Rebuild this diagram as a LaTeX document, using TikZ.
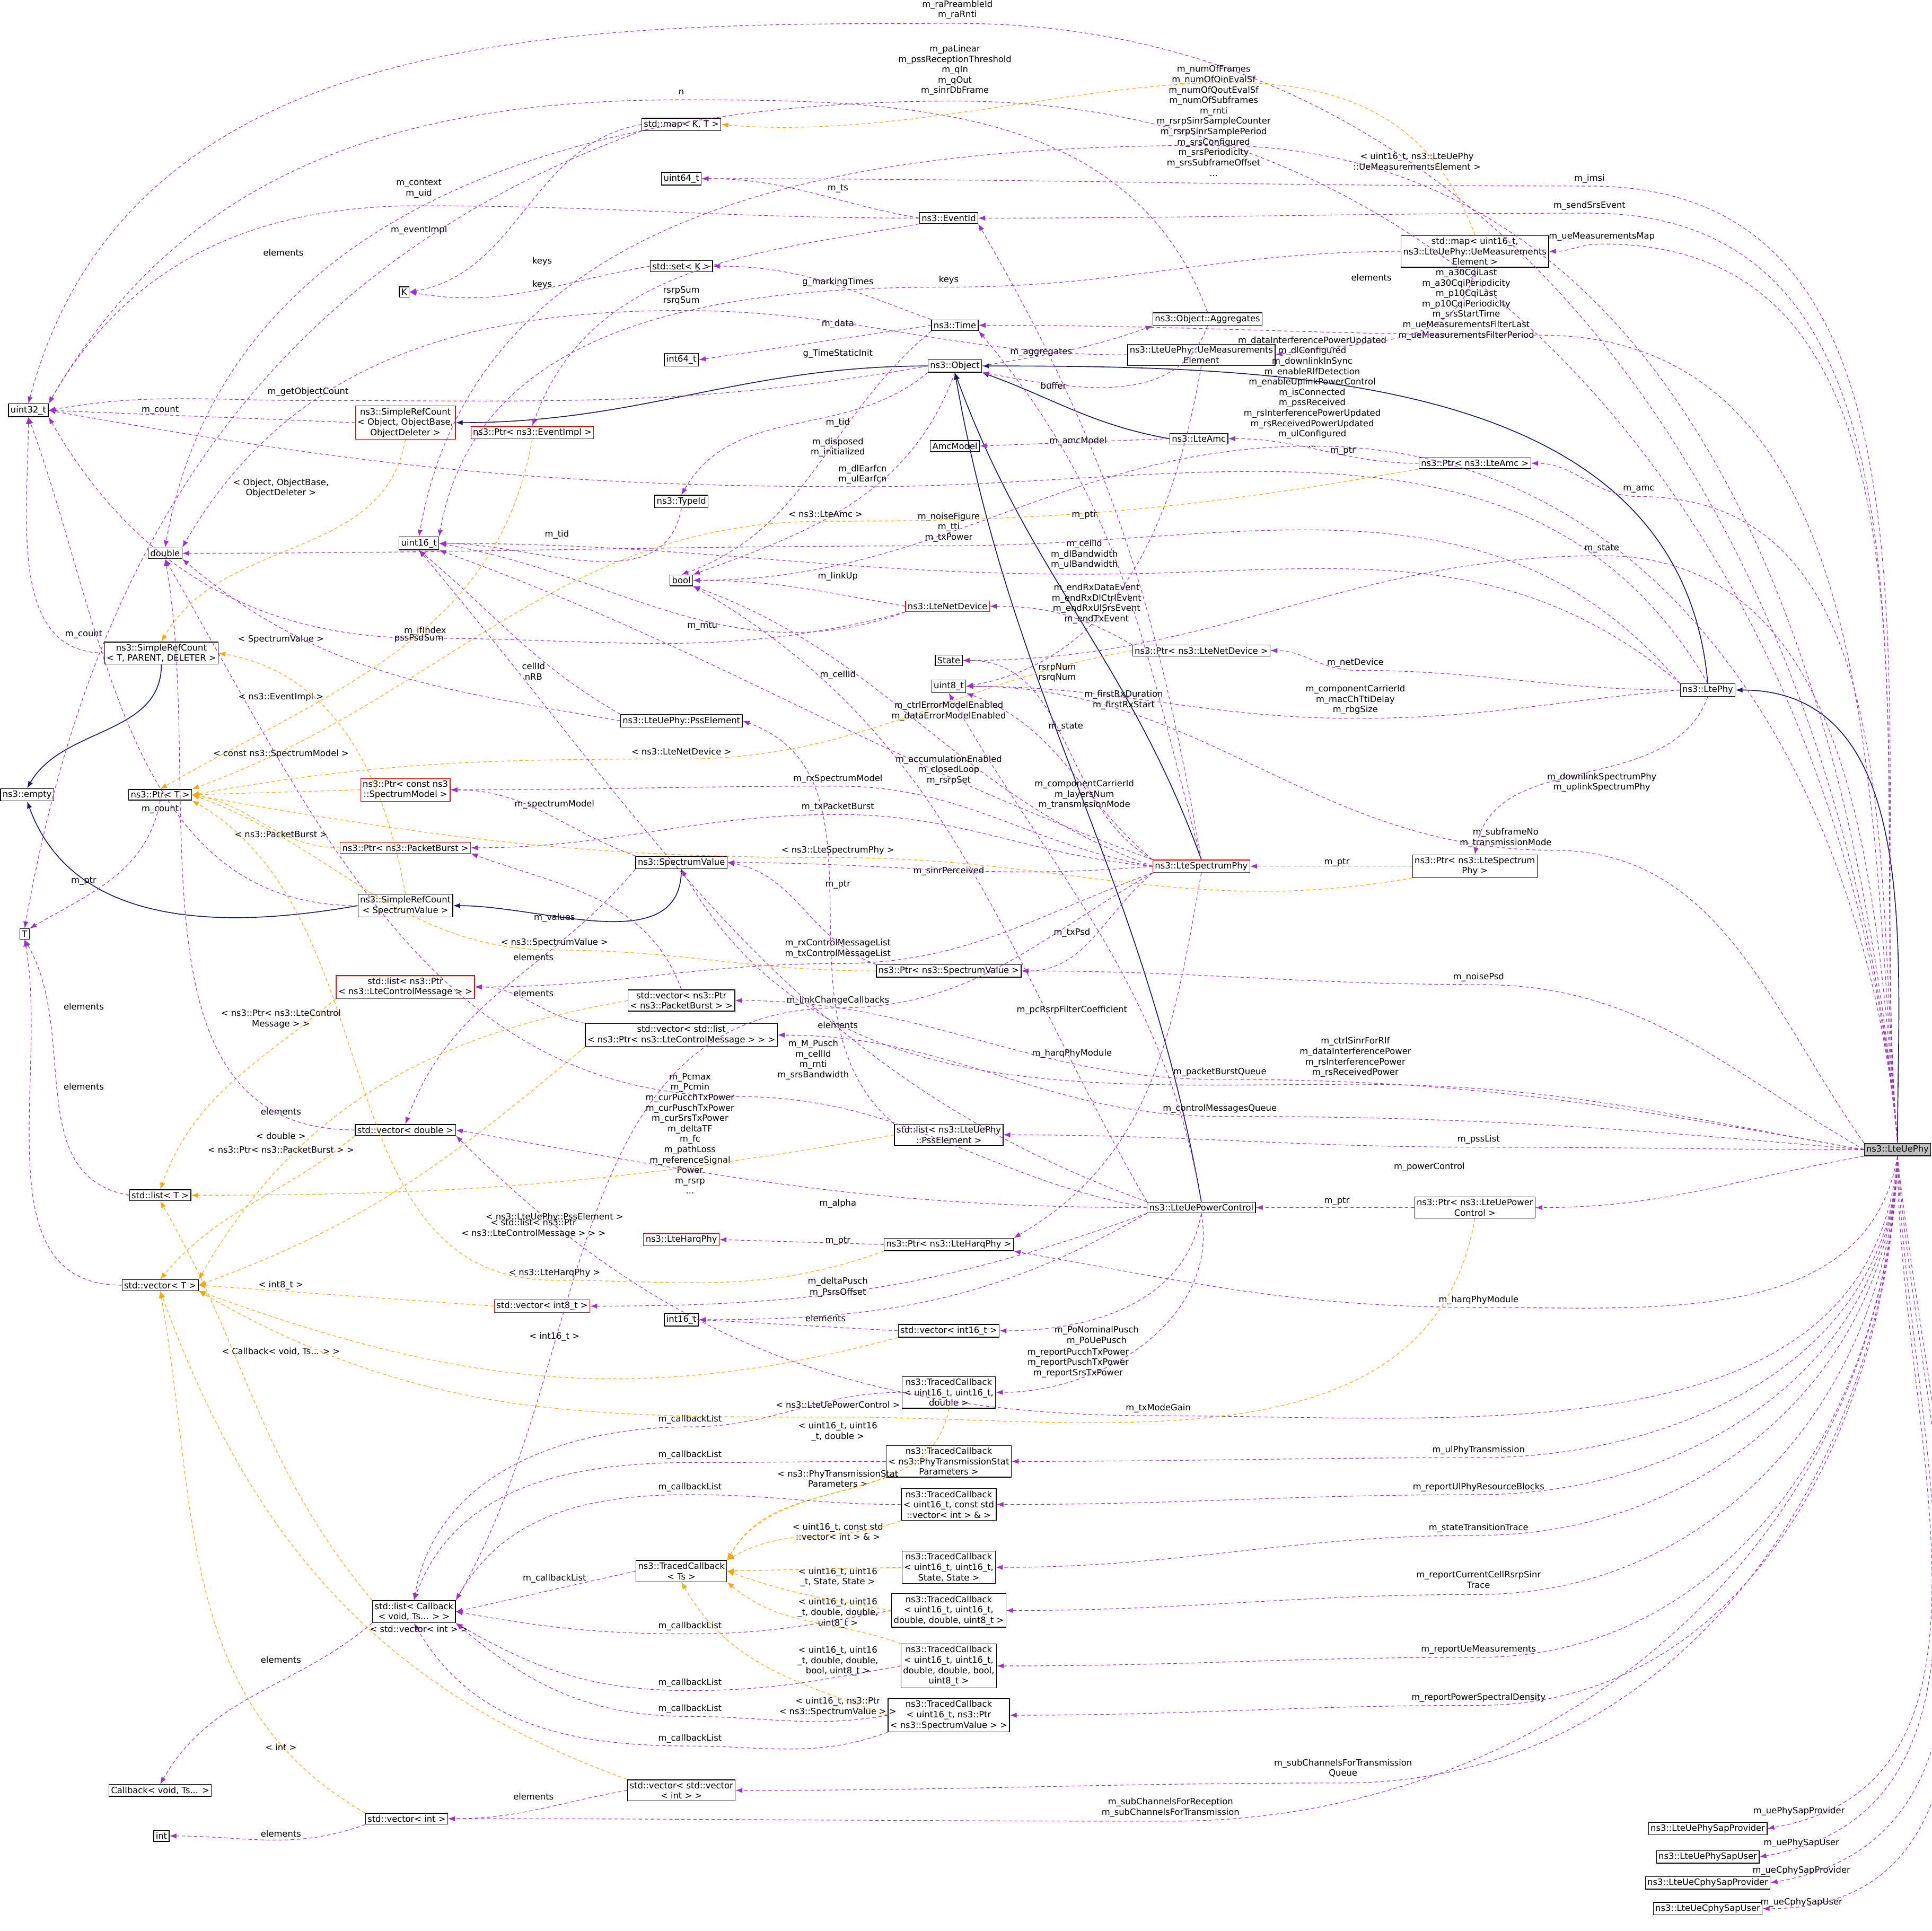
\documentclass[tikz,border=0pt]{standalone}
\usepackage{fontspec}
\setmainfont{DejaVu Sans}
\usetikzlibrary{arrows.meta}
\definecolor{pur}{HTML}{9A32CD}
\definecolor{ora}{HTML}{FFA500}
\definecolor{nav}{HTML}{191970}
\newcommand\fs{\fontsize{5}{6}\selectfont}
\tikzset{
box/.style={draw=black, fill=white, inner sep=1.2pt, align=center, font=\fs, line width=0.4pt},
rbox/.style={box, draw=red},
gbox/.style={box, fill=black!25},
lbl/.style={align=center, font=\fs, inner sep=0pt},
pe/.style={draw=pur, dash pattern=on 2pt off 1.5pt, -{Latex[length=4pt,width=3pt]}, line width=0.35pt},
oe/.style={draw=ora, dash pattern=on 2pt off 1.5pt, -{Latex[length=4pt,width=3pt]}, line width=0.35pt},
ie/.style={draw=nav, -{Latex[length=4pt,width=3pt]}, line width=0.5pt},
}
\begin{document}
\begin{tikzpicture}[x=0.025cm,y=-0.025cm]
\useasboundingbox (0,0) rectangle (1568,1567);
% nodes
\node[box] (u32) at (23,333) {uint32\_t};
\node[box] (dbl) at (134,449) {double};
\node[box] (empty) at (22,645) {ns3::empty};
\node[box] (T) at (20,758) {T};
\node[box] (ptrT) at (130,645) {ns3::Ptr< T >};
\node[box] (srcT) at (131,530) {ns3::SimpleRefCount\\< T, PARENT, DELETER >};
\node[box] (listT) at (130,970) {std::list< T >};
\node[box] (vecT) at (130,1043) {std::vector< T >};
\node[box] (listCb) at (336,1308) {std::list< Callback\\< void, Ts... > >};
\node[box] (cb) at (130,1453) {Callback< void, Ts... >};
\node[box] (int) at (131,1490) {int};
\node[box] (vint) at (330,1476) {std::vector< int >};
\node[box] (vvint) at (553,1453) {std::vector< std::vector\\< int > >};
\node[box] (K) at (328,237) {K};
\node[box] (i64) at (553,292) {int64\_t};
\node[box] (u64) at (553,145) {uint64\_t};
\node[box] (mapKT) at (553,101) {std::map< K, T >};
\node[box] (setK) at (553,216) {std::set< K >};
\node[rbox] (srcO) at (329,343) {ns3::SimpleRefCount\\< Object, ObjectBase,\\ ObjectDeleter >};
\node[rbox] (pEvI) at (432,351) {ns3::Ptr< ns3::EventImpl >};
\node[box] (u16) at (340,441) {uint16\_t};
\node[box] (bool) at (553,471) {bool};
\node[box] (tid) at (553,407) {ns3::TypeId};
\node[box] (state) at (770,536) {State};
\node[box] (u8) at (770,557) {uint8\_t};
\node[box] (evid) at (770,177) {ns3::EventId};
\node[box] (time) at (775,264) {ns3::Time};
\node[box] (obj) at (775,297) {ns3::Object};
\node[box] (amcm) at (775,362) {AmcModel};
\node[box] (aggr) at (980,259) {ns3::Object::Aggregates};
\node[box] (uemE) at (975,288) {ns3::LteUePhy::UeMeasurements\\Element};
\node[box] (mapU) at (1197,204) {std::map< uint16\_t,\\ ns3::LteUePhy::UeMeasurements\\Element >};
\node[box] (amc) at (973,356) {ns3::LteAmc};
\node[box] (pAmc) at (1197,376) {ns3::Ptr< ns3::LteAmc >};
\node[rbox] (netd) at (769,492) {ns3::LteNetDevice};
\node[box] (pNetd) at (975,528) {ns3::Ptr< ns3::LteNetDevice >};
\node[box] (phy) at (1386,560) {ns3::LtePhy};
\node[rbox] (pSM) at (329,641) {ns3::Ptr< const ns3\\::SpectrumModel >};
\node[rbox] (pPB) at (329,688) {ns3::Ptr< ns3::PacketBurst >};
\node[box] (pss) at (553,585) {ns3::LteUePhy::PssElement};
\node[box] (sv) at (553,700) {ns3::SpectrumValue};
\node[box] (srcSV) at (329,735) {ns3::SimpleRefCount\\< SpectrumValue >};
\node[rbox] (lCM) at (329,801) {std::list< ns3::Ptr\\< ns3::LteControlMessage > >};
\node[box] (vPB) at (553,812) {std::vector< ns3::Ptr\\< ns3::PacketBurst > >};
\node[box] (vlCM) at (553,840) {std::vector< std::list\\< ns3::Ptr< ns3::LteControlMessage > > >};
\node[box] (vdbl) at (329,917) {std::vector< double >};
\node[rbox] (sphy) at (975,703) {ns3::LteSpectrumPhy};
\node[box] (pSphy) at (1197,703) {ns3::Ptr< ns3::LteSpectrum\\Phy >};
\node[box] (pSV) at (770,788) {ns3::Ptr< ns3::SpectrumValue >};
\node[box] (lPss) at (770,921) {std::list< ns3::LteUePhy\\::PssElement >};
\node[box] (pc) at (975,980) {ns3::LteUePowerControl};
\node[box] (pPc) at (1197,980) {ns3::Ptr< ns3::LteUePower\\Control >};
\node[rbox] (harq) at (553,1006) {ns3::LteHarqPhy};
\node[box] (pHarq) at (770,1010) {ns3::Ptr< ns3::LteHarqPhy >};
\node[rbox] (vi8) at (440,1060) {std::vector< int8\_t >};
\node[box] (i16) at (553,1071) {int16\_t};
\node[box] (vi16) at (770,1080) {std::vector< int16\_t >};
\node[box] (tc1) at (770,1130) {ns3::TracedCallback\\< uint16\_t, uint16\_t,\\ double >};
\node[box] (tc2) at (770,1186) {ns3::TracedCallback\\< ns3::PhyTransmissionStat\\Parameters >};
\node[box] (tc3) at (770,1221) {ns3::TracedCallback\\< uint16\_t, const std\\::vector< int > \& >};
\node[box] (tcTs) at (553,1275) {ns3::TracedCallback\\< Ts >};
\node[box] (tc4) at (770,1272) {ns3::TracedCallback\\< uint16\_t, uint16\_t,\\ State, State >};
\node[box] (tc5) at (770,1307) {ns3::TracedCallback\\< uint16\_t, uint16\_t,\\ double, double, uint8\_t >};
\node[box] (tc6) at (770,1352) {ns3::TracedCallback\\< uint16\_t, uint16\_t,\\ double, double, bool,\\ uint8\_t >};
\node[box] (tc7) at (770,1392) {ns3::TracedCallback\\< uint16\_t, ns3::Ptr\\< ns3::SpectrumValue > >};
\node[gbox] (U) at (1540,933) {ns3::LteUePhy};
\node[box] (sap1) at (1386,1484) {ns3::LteUePhySapProvider};
\node[box] (sap2) at (1386,1507) {ns3::LteUePhySapUser};
\node[box] (sap3) at (1386,1528) {ns3::LteUeCphySapProvider};
\node[box] (sap4) at (1386,1549) {ns3::LteUeCphySapUser};

% inheritance
\draw[ie] (U.north) to[out=90,in=0] (phy.east);
\draw[ie] (phy.north) to[out=95,in=0] (obj.east);
\draw[ie] (pc.north) to[out=100,in=-80] (obj.south);
\draw[ie] (amc.west) to[out=170,in=-20] (obj.south east);
\draw[ie] (sphy.north) to[out=110,in=-70] (obj.south);
\draw[ie] (obj.west) to[out=180,in=0] (srcO.east);
\draw[ie] (srcT.south) to[out=-90,in=60] (empty.north);
\draw[ie] (srcSV.west) to[out=190,in=-70] (empty.south);
\draw[ie] (sv.south) to[out=-90,in=0] (srcSV.east);

% LteUePhy members
\node[lbl] (l1) at (777,8) {m\_raPreambleId\\m\_raRnti};
\draw[pe] (U.north) to[out=95,in=0] (777,19) to[out=180,in=75] (u32.north);
\node[lbl] (l2) at (775,57) {m\_paLinear\\m\_pssReceptionThreshold\\m\_qIn\\m\_qOut\\m\_sinrDbFrame};
\draw[pe] (U.north) to[out=95,in=0] (775,82) to[out=180,in=80] (dbl.north);
\node[lbl] (l3) at (985,98) {m\_numOfFrames\\m\_numOfQinEvalSf\\m\_numOfQoutEvalSf\\m\_numOfSubframes\\m\_rnti\\m\_rsrpSinrSampleCounter\\m\_rsrpSinrSamplePeriod\\m\_srsConfigured\\m\_srsPeriodicity\\m\_srsSubframeOffset\\...};
\draw[pe] (U.north) to[out=95,in=0] (985,118) to[out=180,in=80] (u16.north);
\node[lbl] (l4) at (1290,145) {m\_imsi};
\draw[pe] (U.north) to[out=95,in=0] (1290,151) to[out=180,in=0] (u64.east);
\node[lbl] (l5) at (1290,167) {m\_sendSrsEvent};
\draw[pe] (U.north) to[out=95,in=0] (1290,173) to[out=180,in=0] (evid.east);
\node[lbl] (l6) at (1300,192) {m\_ueMeasurementsMap};
\draw[pe] (U.north) to[out=95,in=0] (1300,198) to[out=180,in=0] (mapU.east);
\node[lbl] (l7) at (1190,247) {m\_a30CqiLast\\m\_a30CqiPeriodicity\\m\_p10CqiLast\\m\_p10CqiPeriodicity\\m\_srsStartTime\\m\_ueMeasurementsFilterLast\\m\_ueMeasurementsFilterPeriod};
\draw[pe] (U.north) to[out=95,in=0] (1250,272) to[out=180,in=0] (time.east);
\node[lbl] (l8) at (1065,318) {m\_dataInterferencePowerUpdated\\m\_dlConfigured\\m\_downlinkInSync\\m\_enableRlfDetection\\m\_enableUplinkPowerControl\\m\_isConnected\\m\_pssReceived\\m\_rsInterferencePowerUpdated\\m\_rsReceivedPowerUpdated\\m\_ulConfigured\\...};
\draw[pe] (U.north) to[out=95,in=0] (1065,362) to[out=180,in=0] (bool.east);
\node[lbl] (l9) at (1330,397) {m\_amc};
\draw[pe] (U.north) to[out=95,in=0] (1330,403) to[out=180,in=0] (pAmc.east);
\node[lbl] (l10) at (1300,445) {m\_state};
\draw[pe] (U.north) to[out=95,in=0] (1300,451) to[out=180,in=0] (state.east);
\node[lbl] (l11) at (1222,680) {m\_subframeNo\\m\_transmissionMode};
\draw[pe] (U.north west) to[out=125,in=0] (1260,690) to[out=180,in=0] (u8.east);
\node[lbl] (l12) at (1200,793) {m\_noisePsd};
\draw[pe] (U.west) to[out=150,in=0] (1200,799) to[out=180,in=0] (pSV.east);
\node[lbl] (l13) at (1100,858) {m\_ctrlSinrForRlf\\m\_dataInterferencePower\\m\_rsInterferencePower\\m\_rsReceivedPower};
\draw[pe] (U.west) to[out=170,in=0] (1100,880) to[out=180,in=-60] (sv.south);
\node[lbl] (l14) at (990,870) {m\_packetBurstQueue};
\draw[pe] (U.west) to[out=170,in=0] (990,876) to[out=180,in=0] (vPB.east);
\node[lbl] (l15) at (990,900) {m\_controlMessagesQueue};
\draw[pe] (U.west) to[out=175,in=0] (990,906) to[out=180,in=0] (vlCM.east);
\node[lbl] (l16) at (1200,925) {m\_pssList};
\draw[pe] (U.west) to[out=180,in=0] (1200,931) to[out=180,in=0] (lPss.east);
\node[lbl] (l17) at (1160,947) {m\_powerControl};
\draw[pe] (U.south west) to[out=190,in=0] (pPc.east);
\node[lbl] (l18) at (1200,1055) {m\_harqPhyModule};
\draw[pe] (U.south) to[out=-100,in=0] (1200,1061) to[out=180,in=-10] (pHarq.south east);
\node[lbl] (l19) at (940,1143) {m\_txModeGain};
\draw[pe] (U.south) to[out=-95,in=0] (940,1149) to[out=180,in=-45] (vdbl.south east);
\node[lbl] (l20) at (1200,1177) {m\_ulPhyTransmission};
\draw[pe] (U.south) to[out=-92,in=0] (1200,1183) to[out=180,in=0] (tc2.east);
\node[lbl] (l21) at (1200,1207) {m\_reportUlPhyResourceBlocks};
\draw[pe] (U.south) to[out=-92,in=0] (1200,1213) to[out=180,in=0] (tc3.east);
\node[lbl] (l22) at (1200,1240) {m\_stateTransitionTrace};
\draw[pe] (U.south) to[out=-92,in=0] (1200,1246) to[out=180,in=0] (tc4.east);
\node[lbl] (l23) at (1200,1282) {m\_reportCurrentCellRsrpSinr\\Trace};
\draw[pe] (U.south) to[out=-92,in=0] (1200,1294) to[out=180,in=0] (tc5.east);
\node[lbl] (l24) at (1200,1339) {m\_reportUeMeasurements};
\draw[pe] (U.south) to[out=-92,in=0] (1200,1345) to[out=180,in=0] (tc6.east);
\node[lbl] (l25) at (1200,1378) {m\_reportPowerSpectralDensity};
\draw[pe] (U.south) to[out=-92,in=0] (1200,1384) to[out=180,in=0] (tc7.east);
\node[lbl] (l26) at (1090,1435) {m\_subChannelsForTransmission\\Queue};
\draw[pe] (U.south) to[out=-92,in=0] (1090,1447) to[out=180,in=0] (vvint.east);
\node[lbl] (l27) at (950,1467) {m\_subChannelsForReception\\m\_subChannelsForTransmission};
\draw[pe] (U.south) to[out=-92,in=0] (950,1478) to[out=180,in=0] (vint.east);
\node[lbl] (l28) at (1460,1470) {m\_uePhySapProvider};
\draw[pe] (U.south) to[out=-90,in=10] (sap1.east);
\node[lbl] (l29) at (1462,1496) {m\_uePhySapUser};
\draw[pe] (U.south) to[out=-88,in=10] (sap2.east);
\node[lbl] (l30) at (1462,1518) {m\_ueCphySapProvider};
\draw[pe] (U.south) to[out=-86,in=10] (sap3.east);
\node[lbl] (l31) at (1462,1544) {m\_ueCphySapUser};
\draw[pe] (U.south) to[out=-84,in=0] (sap4.east);

% LtePhy members
\node[lbl] (p1) at (1100,538) {m\_netDevice};
\draw[pe] (phy.west) to[out=180,in=0] (1100,544) to[out=180,in=0] (pNetd.east);
\node[lbl] (p2) at (1100,568) {m\_componentCarrierId\\m\_macChTtiDelay\\m\_rbgSize};
\draw[pe] (phy.west) to[out=185,in=0] (1100,583) to[out=180,in=0] (u8.east);
\node[lbl] (p3) at (1300,635) {m\_downlinkSpectrumPhy\\m\_uplinkSpectrumPhy};
\draw[pe] (phy.south) to[out=-110,in=80] (pSphy.north);
\node[lbl] (p4) at (880,450) {m\_cellId\\m\_dlBandwidth\\m\_ulBandwidth};
\draw[pe] (phy.north west) to[out=140,in=0] (880,466) to[out=180,in=0] (u16.east);
\node[lbl] (p5) at (770,428) {m\_noiseFigure\\m\_tti\\m\_txPower};
\draw[pe] (phy.north west) to[out=130,in=0] (770,443) to[out=180,in=0] (dbl.east);
\node[lbl] (p6) at (700,385) {m\_dlEarfcn\\m\_ulEarfcn};
\draw[pe] (phy.north) to[out=120,in=0] (700,395) to[out=180,in=-10] (u32.east);

% Object etc
\node[lbl] (o1) at (680,343) {m\_tid};
\draw[pe] (obj.south west) to[out=220,in=60] (tid.north);
\node[lbl] (o2) at (680,363) {m\_disposed\\m\_initialized};
\draw[pe] (obj.south) to[out=-110,in=20] (bool.north east);
\node[lbl] (o3) at (845,286) {m\_aggregates};
\draw[pe] (obj.east) to[out=10,in=200] (aggr.south west);
\node[lbl] (o4) at (855,313) {buffer};
\draw[pe] (aggr.south) to[out=-110,in=-10] (obj.south east);
\node[lbl] (o5) at (250,318) {m\_getObjectCount};
\draw[pe] (obj.west) to[out=190,in=0] (250,325) to[out=180,in=10] (u32.east);
\node[lbl] (o6) at (553,75) {n};
\draw[pe] (aggr.north) to[out=110,in=0] (553,81) to[out=180,in=60] (u32.north east);
\node[lbl] (o7) at (452,434) {m\_tid};
\draw[pe] (tid.south) to[out=-100,in=0] (u16.east);
\node[lbl] (o8) at (680,263) {m\_data};
\draw[pe] (time.west) -- (i64.east);
\node[lbl] (o9) at (680,229) {g\_markingTimes};
\draw[pe] (time.north west) to[out=160,in=0] (setK.east);
\node[lbl] (o10) at (680,287) {g\_TimeStaticInit};
\draw[pe] (time.south west) to[out=220,in=20] (bool.north);
\node[lbl] (o11) at (680,153) {m\_ts};
\draw[pe] (evid.west) to[out=170,in=0] (u64.east);
\node[lbl] (o12) at (340,153) {m\_context\\m\_uid};
\draw[pe] (evid.west) to[out=180,in=0] (340,167) to[out=180,in=60] (u32.north east);
\node[lbl] (o13) at (340,187) {m\_eventImpl};
\draw[pe] (evid.south west) to[out=190,in=70] (pEvI.north);
\node[lbl] (o14) at (440,212) {keys};
\draw[pe] (mapKT.west) to[out=190,in=10] (K.east);
\node[lbl] (o15) at (440,231) {keys};
\draw[pe] (setK.west) to[out=190,in=-10] (K.east);
\node[lbl] (o16) at (230,205) {elements};
\draw[pe] (mapKT.south west) to[out=200,in=80] (T.north);
\node[lbl] (o17) at (770,227) {keys};
\draw[pe] (mapU.west) to[out=180,in=0] (770,233) to[out=180,in=80] (u16.north east);
\node[lbl] (o18) at (1113,225) {elements};
\draw[pe] (mapU.south) to[out=-100,in=10] (uemE.east);
\node[lbl] (o19) at (1150,131) {< uint16\_t, ns3::LteUePhy\\::UeMeasurementsElement >};
\draw[oe] (mapU.north) to[out=110,in=-5] (mapKT.east);
\node[lbl] (o20) at (553,240) {rsrpSum\\rsrqSum};
\draw[pe] (uemE.west) to[out=180,in=0] (553,252) to[out=180,in=60] (dbl.north east);
\node[lbl] (o21) at (858,546) {rsrpNum\\rsrqNum};
\draw[pe] (uemE.south) to[out=-100,in=10] (u8.east);
\node[lbl] (o22) at (875,358) {m\_amcModel};
\draw[pe] (amc.west) -- (amcm.east);
\node[lbl] (o23) at (1090,366) {m\_ptr};
\draw[pe] (pAmc.west) to[out=180,in=0] (amc.east);
\node[lbl] (o24) at (670,417) {< ns3::LteAmc >};
\draw[oe] (pAmc.south west) to[out=190,in=0] (670,423) to[out=180,in=20] (ptrT.north east);
\node[lbl] (o25) at (680,468) {m\_linkUp};
\draw[pe] (netd.west) to[out=170,in=0] (bool.east);
\node[lbl] (o26) at (570,508) {m\_mtu};
\draw[pe] (netd.south west) to[out=200,in=-10] (u16.east);
\node[lbl] (o27) at (345,512) {m\_ifIndex};
\draw[pe] (netd.south west) to[out=195,in=0] (345,518) to[out=180,in=-60] (u32.south east);
\node[lbl] (o28) at (880,418) {m\_ptr};
\draw[pe] (pNetd.north west) to[out=150,in=0] (netd.east);
\node[lbl] (o29) at (553,610) {< ns3::LteNetDevice >};
\draw[oe] (pNetd.west) to[out=190,in=0] (553,616) to[out=180,in=10] (ptrT.east);

% LteSpectrumPhy
\node[lbl] (s1) at (865,590) {m\_state};
\draw[pe] (sphy.north west) to[out=150,in=0] (state.east);
\node[lbl] (s2) at (890,490) {m\_endRxDataEvent\\m\_endRxDlCtrlEvent\\m\_endRxUlSrsEvent\\m\_endTxEvent};
\draw[pe] (sphy.north) to[out=100,in=-60] (evid.south east);
\node[lbl] (s3) at (912,568) {m\_firstRxDuration\\m\_firstRxStart};
\draw[pe] (sphy.north) to[out=105,in=-50] (time.south east);
\node[lbl] (s4) at (770,577) {m\_ctrlErrorModelEnabled\\m\_dataErrorModelEnabled};
\draw[pe] (sphy.west) to[out=160,in=-20] (bool.south east);
\node[lbl] (s5) at (680,548) {m\_cellId};
\draw[pe] (sphy.north west) to[out=160,in=-20] (u16.south east);
\node[lbl] (s6) at (880,645) {m\_componentCarrierId\\m\_layersNum\\m\_transmissionMode};
\draw[pe] (sphy.north west) to[out=140,in=-20] (u8.south east);
\node[lbl] (s7) at (680,632) {m\_rxSpectrumModel};
\draw[pe] (sphy.west) to[out=170,in=0] (680,638) to[out=180,in=0] (pSM.east);
\node[lbl] (s8) at (680,655) {m\_txPacketBurst};
\draw[pe] (sphy.west) to[out=175,in=0] (680,661) to[out=180,in=0] (pPB.east);
\node[lbl] (s9) at (770,707) {m\_sinrPerceived};
\draw[pe] (sphy.west) to[out=185,in=0] (sv.east);
\node[lbl] (s10) at (870,757) {m\_txPsd};
\draw[pe] (sphy.south west) to[out=220,in=0] (pSV.east);
\node[lbl] (s11) at (680,770) {m\_rxControlMessageList\\m\_txControlMessageList};
\draw[pe] (sphy.south west) to[out=200,in=0] (680,782) to[out=180,in=0] (lCM.east);
\node[lbl] (s12) at (680,812) {m\_linkChangeCallbacks};
\draw[pe] (sphy.south west) to[out=210,in=0] (680,818) to[out=180,in=60] (listCb.north east);
\node[lbl] (s13) at (870,855) {m\_harqPhyModule};
\draw[pe] (sphy.south) to[out=-100,in=30] (pHarq.north east);
\node[lbl] (s14) at (1085,700) {m\_ptr};
\draw[pe] (pSphy.west) -- (sphy.east);
\node[lbl] (s15) at (680,690) {< ns3::LteSpectrumPhy >};
\draw[oe] (pSphy.south west) to[out=190,in=0] (680,696) to[out=180,in=-10] (ptrT.east);

% LteUePowerControl
\node[lbl] (c1) at (770,625) {m\_accumulationEnabled\\m\_closedLoop\\m\_rsrpSet};
\draw[pe] (pc.north west) to[out=120,in=-30] (bool.south east);
\node[lbl] (c2) at (870,820) {m\_pcRsrpFilterCoefficient};
\draw[pe] (pc.north) to[out=100,in=-60] (u8.south);
\node[lbl] (c3) at (660,860) {m\_M\_Pusch\\m\_cellId\\m\_rnti\\m\_srsBandwidth};
\draw[pe] (pc.north west) to[out=160,in=-50] (u16.south);
\node[lbl] (c4) at (560,920) {m\_Pcmax\\m\_Pcmin\\m\_curPucchTxPower\\m\_curPuschTxPower\\m\_curSrsTxPower\\m\_deltaTF\\m\_fc\\m\_pathLoss\\m\_referenceSignal\\Power\\m\_rsrp\\...};
\draw[pe] (pc.west) to[out=170,in=0] (600,890) to[out=180,in=-60] (dbl.south);
\node[lbl] (c5) at (680,977) {m\_alpha};
\draw[pe] (pc.west) to[out=180,in=-10] (vdbl.east);
\node[lbl] (c6) at (680,1040) {m\_deltaPusch};
\draw[pe] (pc.south west) to[out=200,in=0] (vi8.east);
\node[lbl] (c7) at (680,1049) {m\_PsrsOffset};
\draw[pe] (pc.south west) to[out=210,in=0] (i16.east);
\node[lbl] (c8) at (890,1084) {m\_PoNominalPusch\\m\_PoUePusch};
\draw[pe] (pc.south) to[out=-100,in=0] (vi16.east);
\node[lbl] (c11) at (875,1106) {m\_reportPucchTxPower\\m\_reportPuschTxPower\\m\_reportSrsTxPower};
\draw[pe] (pc.south) to[out=-80,in=0] (tc1.east);
\node[lbl] (c12) at (1085,975) {m\_ptr};
\draw[pe] (pPc.west) -- (pc.east);
\node[lbl] (c13) at (680,1140) {< ns3::LteUePowerControl >};
\draw[oe] (pPc.south) to[out=-100,in=0] (680,1150) to[out=180,in=-30] (vecT.south east);
\node[lbl] (c14) at (680,1007) {m\_ptr};
\draw[pe] (pHarq.west) -- (harq.east);
\node[lbl] (c15) at (450,1033) {< ns3::LteHarqPhy >};
\draw[oe] (pHarq.south west) to[out=200,in=0] (450,1039) to[out=180,in=-30] (ptrT.south east);
\node[lbl] (c16) at (680,718) {m\_ptr};
\draw[pe] (pSV.north west) to[out=160,in=-10] (sv.east);
\node[lbl] (c17) at (450,765) {< ns3::SpectrumValue >};
\draw[oe] (pSV.west) to[out=180,in=0] (450,771) to[out=180,in=-20] (ptrT.east);

% SpectrumValue etc
\node[lbl] (v1) at (450,653) {m\_spectrumModel};
\draw[pe] (sv.north west) to[out=160,in=0] (pSM.east);
\node[lbl] (v2) at (450,745) {m\_values};
\draw[pe] (sv.south west) to[out=230,in=70] (vdbl.north);
\node[lbl] (v3) at (130,657) {m\_count};
\draw[pe] (srcSV.west) to[out=180,in=-70] (u32.south);
\node[lbl] (v4) at (228,519) {< SpectrumValue >};
\draw[oe] (srcSV.north) to[out=100,in=-10] (srcT.east);
\node[lbl] (v5) at (68,515) {m\_count};
\draw[pe] (srcT.west) to[out=180,in=-90] (u32.south);
\node[lbl] (v6) at (130,333) {m\_count};
\draw[pe] (srcO.west) -- (u32.east);
\node[lbl] (v7) at (228,396) {< Object, ObjectBase,\\ObjectDeleter >};
\draw[oe] (srcO.south) to[out=-100,in=60] (srcT.north);
\node[lbl] (v8) at (68,715) {m\_ptr};
\draw[pe] (ptrT.south) to[out=-100,in=30] (T.north east);
\node[lbl] (v9) at (228,566) {< ns3::EventImpl >};
\draw[oe] (pEvI.south) to[out=-100,in=30] (ptrT.north);
\node[lbl] (v10) at (228,612) {< const ns3::SpectrumModel >};
\draw[oe] (pSM.west) -- (ptrT.east);
\node[lbl] (v11) at (228,677) {< ns3::PacketBurst >};
\draw[oe] (pPB.west) to[out=180,in=-10] (ptrT.east);
\node[lbl] (v12) at (68,817) {elements};
\draw[pe] (listT.west) to[out=170,in=-60] (T.south);
\node[lbl] (v13) at (68,882) {elements};
\draw[pe] (vecT.west) to[out=180,in=-80] (T.south);
\node[lbl] (v14) at (228,827) {< ns3::Ptr< ns3::LteControl\\Message > >};
\draw[oe] (lCM.south west) to[out=220,in=70] (listT.north);
\node[lbl] (v15) at (433,777) {elements};
\draw[pe] (vPB.north) to[out=110,in=-20] (pPB.south east);
\node[lbl] (v16) at (228,933) {< ns3::Ptr< ns3::PacketBurst > >};
\draw[oe] (vPB.west) to[out=190,in=60] (vecT.north east);
\node[lbl] (v17) at (433,806) {elements};
\draw[pe] (vlCM.north west) to[out=170,in=0] (lCM.east);
\node[lbl] (v18) at (433,997) {< std::list< ns3::Ptr\\< ns3::LteControlMessage > > >};
\draw[oe] (vlCM.south west) to[out=220,in=20] (vecT.east);
\node[lbl] (v19) at (228,902) {elements};
\draw[pe] (vdbl.west) to[out=180,in=-80] (dbl.south);
\node[lbl] (v20) at (228,922) {< double >};
\draw[oe] (vdbl.south west) to[out=220,in=50] (vecT.north);
\node[lbl] (v21) at (680,832) {elements};
\draw[pe] (lPss.north west) to[out=140,in=-20] (pss.east);
\node[lbl] (v22) at (450,988) {< ns3::LteUePhy::PssElement >};
\draw[oe] (lPss.west) to[out=190,in=0] (listT.east);
\node[lbl] (v23) at (433,545) {cellId\\nRB};
\draw[pe] (pss.north west) to[out=150,in=-40] (u16.south);
\node[lbl] (v24) at (340,518) {pssPsdSum};
\draw[pe] (pss.west) to[out=170,in=-40] (dbl.south east);
\node[lbl] (v25) at (228,1043) {< int8\_t >};
\draw[oe] (vi8.west) -- (vecT.east);
\node[lbl] (v26) at (670,1070) {elements};
\draw[pe] (vi16.west) -- (i16.east);
\node[lbl] (v27) at (450,1085) {< int16\_t >};
\draw[oe] (vi16.south west) to[out=195,in=-20] (vecT.south east);

% traced callbacks
\node[lbl] (t0) at (450,1281) {m\_callbackList};
\draw[pe] (tcTs.west) -- (listCb.east);
\node[lbl] (t1) at (560,1152) {m\_callbackList};
\draw[pe] (tc1.west) to[out=180,in=0] (560,1158) to[out=180,in=80] (listCb.north);
\node[lbl] (t1o) at (680,1162) {< uint16\_t, uint16\\\_t, double >};
\draw[oe] (tc1.south) to[out=-100,in=60] (tcTs.north east);
\node[lbl] (t2) at (560,1181) {m\_callbackList};
\draw[pe] (tc2.west) to[out=180,in=0] (560,1187) to[out=180,in=70] (listCb.north);
\node[lbl] (t2o) at (680,1200) {< ns3::PhyTransmissionStat\\Parameters >};
\draw[oe] (tc2.south west) to[out=200,in=60] (tcTs.north east);
\node[lbl] (t3) at (560,1207) {m\_callbackList};
\draw[pe] (tc3.west) to[out=180,in=0] (560,1213) to[out=180,in=60] (listCb.north east);
\node[lbl] (t3o) at (680,1243) {< uint16\_t, const std\\::vector< int > \& >};
\draw[oe] (tc3.south west) to[out=200,in=30] (tcTs.north east);
\node[lbl] (t4o) at (680,1280) {< uint16\_t, uint16\\\_t, State, State >};
\draw[oe] (tc4.west) -- (tcTs.east);
\node[lbl] (t5) at (560,1320) {m\_callbackList};
\draw[pe] (tc5.west) to[out=190,in=0] (560,1326) to[out=180,in=-10] (listCb.east);
\node[lbl] (t5o) at (680,1309) {< uint16\_t, uint16\\\_t, double, double,\\ uint8\_t >};
\draw[oe] (tc5.west) to[out=170,in=-20] (tcTs.east);
\node[lbl] (t6) at (560,1366) {m\_callbackList};
\draw[pe] (tc6.west) to[out=190,in=0] (560,1372) to[out=180,in=-30] (listCb.south east);
\node[lbl] (t6o) at (680,1348) {< uint16\_t, uint16\\\_t, double, double,\\ bool, uint8\_t >};
\draw[oe] (tc6.north west) to[out=160,in=-40] (tcTs.south east);
\node[lbl] (t7) at (560,1387) {m\_callbackList};
\draw[pe] (tc7.west) to[out=190,in=0] (560,1393) to[out=180,in=-40] (listCb.south east);
\node[lbl] (t7b) at (560,1411) {m\_callbackList};
\draw[pe] (tc7.south west) to[out=200,in=0] (560,1417) to[out=180,in=-60] (listCb.south);
\node[lbl] (t7o) at (680,1385) {< uint16\_t, ns3::Ptr\\< ns3::SpectrumValue > >};
\draw[oe] (tc7.west) to[out=160,in=-60] (tcTs.south);
\node[lbl] (t8) at (228,1347) {elements};
\draw[pe] (listCb.south west) to[out=220,in=60] (cb.north);
\node[lbl] (t9) at (228,1097) {< Callback< void, Ts... > >};
\draw[oe] (listCb.north west) to[out=130,in=-60] (listT.south);
\node[lbl] (t10) at (433,1458) {elements};
\draw[pe] (vvint.west) to[out=190,in=0] (vint.east);
\node[lbl] (t11) at (340,1322) {< std::vector< int > >};
\draw[oe] (vvint.north west) to[out=160,in=-70] (vecT.south);
\node[lbl] (t12) at (228,1488) {elements};
\draw[pe] (vint.south west) to[out=200,in=0] (int.east);
\node[lbl] (t13) at (228,1418) {< int >};
\draw[oe] (vint.north west) to[out=150,in=-80] (vecT.south);
\end{tikzpicture}
\end{document}
